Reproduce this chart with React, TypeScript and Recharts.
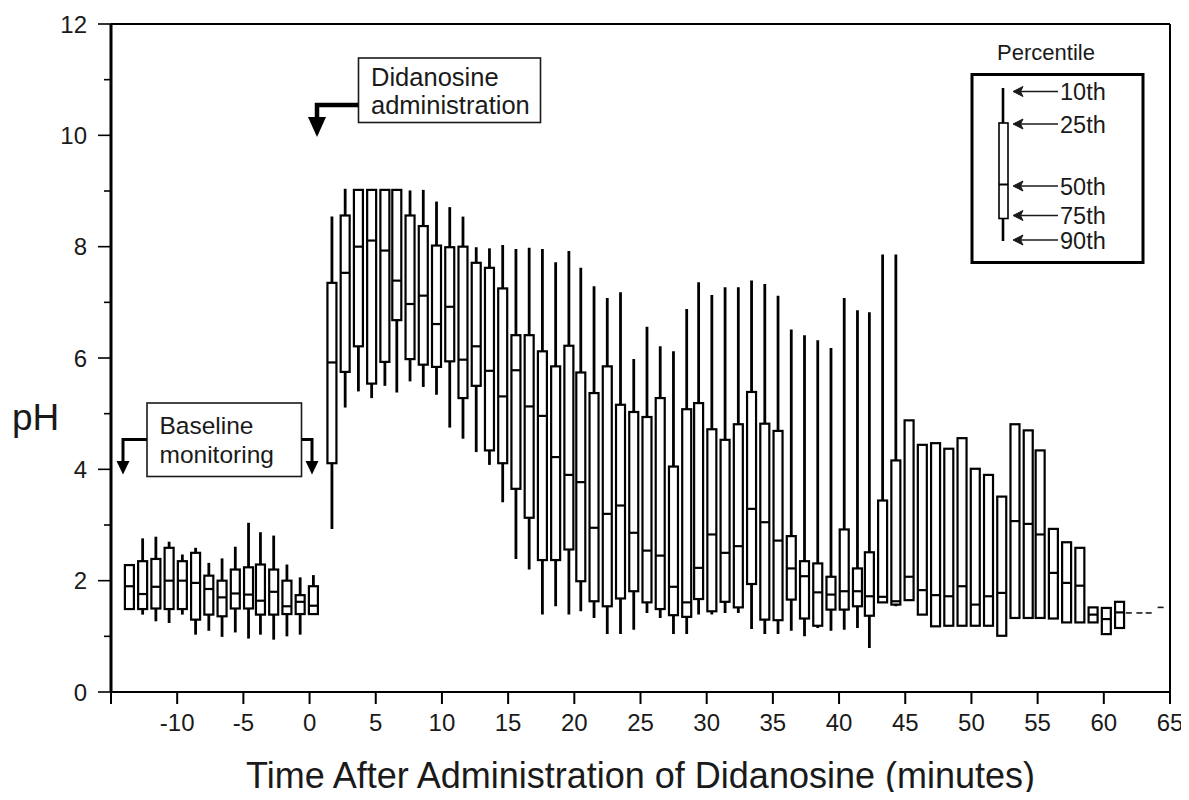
import React from 'react';
import { ComposedChart, Bar, XAxis, YAxis, ReferenceLine } from 'recharts';

// Time (minutes after didanosine administration)
const times = [
  -13.6, -12.6, -11.6, -10.6, -9.6, -8.6, -7.6, -6.6, -5.6, -4.6, -3.7, -2.7, -1.7, -0.7, 0.3,
  1.7, 2.7, 3.7, 4.7, 5.7, 6.6, 7.6, 8.6, 9.6, 10.6,
  11.6, 12.6, 13.6, 14.6, 15.6, 16.6, 17.6, 18.6, 19.6, 20.5,
  21.5, 22.5, 23.5, 24.5, 25.5, 26.5, 27.5, 28.5, 29.4, 30.4,
  31.4, 32.4, 33.4, 34.4, 35.4, 36.4, 37.4, 38.4, 39.4, 40.4,
  41.4, 42.3, 43.3, 44.3, 45.3, 46.3, 47.3, 48.3, 49.3, 50.3,
  51.3, 52.3, 53.3, 54.3, 55.2, 56.2, 57.2, 58.2, 59.2, 60.2,
  61.2, 61.9, 62.7, 63.4, 64.3,
];

// Upper whisker end
const whiskerHigh = [
  2.28, 2.76, 2.79, 2.7, 2.47, 2.59, 2.32, 2.4, 2.61, 3.04, 2.87, 2.81, 2.29, 2.06, 2.1,
  8.54, 9.04, 9.02, 9.02, 9.02, 9.02, 9.01, 9.02, 8.81, 8.71,
  8.54, 7.99, 7.97, 8.03, 7.96, 7.98, 7.96, 7.72, 7.92, 7.62,
  7.29, 7.08, 7.18, 5.98, 6.56, 6.21, 6.12, 6.88, 7.36, 7.13,
  7.27, 7.27, 7.39, 7.33, 7.12, 6.51, 6.41, 6.32, 6.18, 7.08,
  6.86, 6.82, 7.86, 7.86, 4.88, 4.44, 4.47, 4.37, 4.56, 4.01,
  3.9, 3.51, 4.81, 4.7, 4.34, 2.93, 2.69, 2.59, 1.52, 1.51,
  1.62, 1.43, 1.43, 1.43, 1.53,
];

// Upper edge of box
const boxHigh = [
  2.28, 2.35, 2.39, 2.59, 2.35, 2.5, 2.09, 2.0, 2.2, 2.24, 2.29, 2.2, 2.0, 1.74, 1.9,
  7.35, 8.56, 9.02, 9.02, 9.02, 9.02, 8.56, 8.37, 8.02, 7.99,
  8.0, 7.71, 7.62, 7.25, 6.41, 6.41, 6.12, 5.85, 6.22, 5.74,
  5.37, 5.85, 5.16, 5.03, 4.94, 5.28, 4.05, 5.08, 5.19, 4.72,
  4.53, 4.81, 5.39, 4.82, 4.69, 2.8, 2.35, 2.31, 2.07, 2.92,
  2.22, 2.51, 3.44, 4.16, 4.88, 4.44, 4.47, 4.37, 4.56, 4.01,
  3.9, 3.51, 4.81, 4.7, 4.34, 2.93, 2.69, 2.59, 1.52, 1.51,
  1.62, 1.43, 1.43, 1.43, 1.53,
];

// Median
const median = [
  1.9, 1.76, 1.89, 2.0, 2.0, 1.96, 1.85, 1.7, 1.77, 1.75, 1.64, 1.8, 1.54, 1.62, 1.55,
  5.92, 7.53, 8.0, 8.11, 7.93, 7.39, 6.97, 7.12, 6.61, 6.92,
  5.97, 6.21, 5.77, 5.31, 5.78, 5.13, 4.96, 4.22, 3.9, 3.77,
  2.95, 3.2, 3.35, 2.86, 2.54, 2.45, 1.89, 1.61, 2.23, 2.83,
  2.5, 2.62, 3.29, 3.05, 2.72, 2.22, 2.08, 1.79, 1.75, 1.81,
  1.81, 1.72, 1.71, 1.63, 2.07, 1.83, 1.74, 1.72, 1.9, 1.57,
  1.72, 1.78, 3.07, 3.02, 2.83, 2.14, 1.96, 1.91, 1.39, 1.31,
  1.43, 1.42, 1.42, 1.42, 1.52,
];

// Lower edge of box
const boxLow = [
  1.49, 1.49, 1.5, 1.49, 1.49, 1.3, 1.39, 1.36, 1.5, 1.5, 1.39, 1.39, 1.4, 1.4, 1.4,
  4.11, 5.75, 6.21, 5.54, 5.93, 6.68, 5.98, 5.88, 5.84, 5.94,
  5.28, 5.5, 4.34, 4.11, 3.65, 3.13, 2.37, 2.37, 2.56, 1.99,
  1.63, 1.54, 1.68, 1.81, 1.61, 1.49, 1.38, 1.35, 1.67, 1.45,
  1.62, 1.52, 1.94, 1.3, 1.29, 1.66, 1.32, 1.19, 1.48, 1.48,
  1.54, 1.37, 1.61, 1.57, 1.65, 1.39, 1.18, 1.19, 1.19, 1.19,
  1.19, 1.01, 1.33, 1.33, 1.33, 1.32, 1.25, 1.25, 1.25, 1.04,
  1.15, 1.41, 1.41, 1.41, 1.51,
];

// Lower whisker end
const whiskerLow = [
  1.49, 1.39, 1.27, 1.24, 1.39, 1.03, 1.1, 0.99, 1.07, 0.96, 1.03, 0.94, 1.0, 1.03, 1.4,
  2.93, 5.11, 5.4, 5.28, 5.5, 5.38, 5.58, 5.48, 5.34, 4.75,
  4.55, 4.31, 4.08, 3.41, 2.39, 2.2, 1.39, 1.54, 1.39, 1.45,
  1.33, 1.04, 1.04, 1.12, 1.42, 1.33, 1.04, 1.04, 1.39, 1.39,
  1.42, 1.42, 1.13, 1.04, 1.04, 1.1, 1.0, 1.15, 1.1, 1.12,
  1.15, 0.79, 1.61, 1.54, 1.65, 1.39, 1.18, 1.19, 1.19, 1.19,
  1.19, 1.01, 1.33, 1.33, 1.33, 1.32, 1.25, 1.25, 1.25, 1.04,
  1.15, 1.41, 1.41, 1.41, 1.51,
];

const xTicks = [-15, -10, -5, 0, 5, 10, 15, 20, 25, 30, 35, 40, 45, 50, 55, 60, 65];
const yTicks = [0, 1, 2, 3, 4, 5, 6, 7, 8, 9, 10, 11, 12];
const yLabelTicks = [0, 2, 4, 6, 8, 10, 12];

const data = times.map((t, i) => ({
  t,
  lo: whiskerLow[i],
  q1: boxLow[i],
  med: median[i],
  q3: boxHigh[i],
  hi: whiskerHigh[i],
}));

const FONT = '"Liberation Sans", Arial, Helvetica, sans-serif';
const INK = '#1a1a1a';
const AXIS_X = 111;
const AXIS_Y = 692;

const BoxShape = (props: any) => {
  const { x, y, width, height, payload } = props;
  if (x == null || y == null || !payload) return null;
  const top = Math.min(y, y + height);
  const h = Math.abs(height);
  const { lo, q1, med, q3, hi } = payload;
  const span = hi - lo;
  const py = (v: number) => (span > 0 ? top + (h * (hi - v)) / span : top);
  const cx = x + width / 2;
  if (q3 - q1 < 0.05) {
    return (
      <g>
        <line x1={cx - 3} x2={cx + 3} y1={py(med)} y2={py(med)} stroke={INK} strokeWidth={1.6} />
      </g>
    );
  }
  const half = 4.5;
  return (
    <g>
      <line x1={cx} x2={cx} y1={py(hi)} y2={py(lo)} stroke="#000" strokeWidth={2.8} />
      <rect
        x={cx - half}
        y={py(q3)}
        width={half * 2}
        height={Math.max(0, py(q1) - py(q3))}
        fill="#fff"
        stroke="#000"
        strokeWidth={2.2}
      />
      <line x1={cx - half} x2={cx + half} y1={py(med)} y2={py(med)} stroke="#000" strokeWidth={2.2} />
    </g>
  );
};

const YTick = (props: any) => {
  const { y, payload } = props;
  const v = payload.value;
  const major = yLabelTicks.includes(v);
  return (
    <g>
      <line x1={AXIS_X - (major ? 13 : 7)} x2={AXIS_X} y1={y} y2={y} stroke="#000" strokeWidth={1.6} />
      {major && (
        <text x={87} y={y + 8.5} textAnchor="end" fontSize={24} fontFamily={FONT} fill={INK}>
          {v}
        </text>
      )}
    </g>
  );
};

const XTick = (props: any) => {
  const { x, payload } = props;
  const v = payload.value;
  return (
    <g>
      <line x1={x} x2={x} y1={AXIS_Y} y2={AXIS_Y + 12} stroke="#000" strokeWidth={2} />
      {v !== -15 && (
        <text x={x} y={731} textAnchor="middle" fontSize={24} fontFamily={FONT} fill={INK}>
          {v}
        </text>
      )}
    </g>
  );
};

const legendRows = [
  { label: '10th', y: 91.5 },
  { label: '25th', y: 124 },
  { label: '50th', y: 186 },
  { label: '75th', y: 215.5 },
  { label: '90th', y: 240 },
];

const Overlay = () => (
  <svg
    width={1189}
    height={800}
    style={{ position: 'absolute', left: 0, top: 0, pointerEvents: 'none' }}
  >
    {/* Axis titles */}
    <text x={12} y={430} fontSize={37} fontFamily={FONT} fill={INK}>
      pH
    </text>
    <text x={640.5} y={788} textAnchor="middle" fontSize={36} fontFamily={FONT} fill={INK}>
      Time After Administration of Didanosine (minutes)
    </text>

    {/* Didanosine administration annotation */}
    <rect x={358.5} y={58} width={182} height={64.5} fill="#fff" stroke={INK} strokeWidth={1.6} />
    <text x={371} y={86} fontSize={25.5} fontFamily={FONT} fill={INK}>
      Didanosine
    </text>
    <text x={371} y={114} fontSize={25.5} fontFamily={FONT} fill={INK}>
      administration
    </text>
    <polyline points="358,105 317,105 317,120" fill="none" stroke="#000" strokeWidth={4.5} />
    <polygon points="308,117 326,117 317,137" fill="#000" />

    {/* Baseline monitoring annotation */}
    <rect x={147} y={403} width={154.5} height={73.5} fill="#fff" stroke={INK} strokeWidth={1.6} />
    <text x={159.5} y={434} fontSize={24.5} fontFamily={FONT} fill={INK}>
      Baseline
    </text>
    <text x={159.5} y={463} fontSize={24.5} fontFamily={FONT} fill={INK}>
      monitoring
    </text>
    <polyline points="147,439.5 123,439.5 123,463" fill="none" stroke="#000" strokeWidth={3} />
    <polygon points="116.5,461 129.5,461 123,474.5" fill="#000" />
    <polyline points="301.5,439.5 312,439.5 312,463" fill="none" stroke="#000" strokeWidth={3} />
    <polygon points="305.5,461 318.5,461 312,474.5" fill="#000" />

    {/* Percentile legend */}
    <text x={1046} y={60} textAnchor="middle" fontSize={22} fontFamily={FONT} fill={INK}>
      Percentile
    </text>
    <rect x={972} y={74.5} width={171} height={188} fill="#fff" stroke="#000" strokeWidth={3} />
    <line x1={1003} x2={1003} y1={88} y2={241} stroke="#000" strokeWidth={2.6} />
    <rect x={999} y={123} width={9} height={95.5} fill="#fff" stroke="#000" strokeWidth={1.6} />
    <line x1={999} x2={1008} y1={184.5} y2={184.5} stroke="#000" strokeWidth={2} />
    {legendRows.map((r) => (
      <g key={r.label}>
        <line x1={1017} x2={1058} y1={r.y} y2={r.y} stroke={INK} strokeWidth={1.5} />
        <polygon
          points={`1013,${r.y} 1023,${r.y - 5} 1020.5,${r.y} 1023,${r.y + 5}`}
          fill={INK}
          stroke={INK}
          strokeWidth={1}
        />
        <text x={1060} y={r.y + 8.5} fontSize={23.5} fontFamily={FONT} fill={INK}>
          {r.label}
        </text>
      </g>
    ))}
  </svg>
);

export default function App() {
  return (
    <div style={{ position: 'relative', width: 1189, height: 800, margin: -8, background: '#fff' }}>
      <ComposedChart
        width={1189}
        height={800}
        data={data}
        margin={{ top: 24, right: 19, bottom: 48, left: 0 }}
      >
        <XAxis
          dataKey="t"
          type="number"
          domain={[-15, 65]}
          ticks={xTicks}
          interval={0}
          height={60}
          allowDataOverflow
          axisLine={{ stroke: '#000', strokeWidth: 2 }}
          tickLine={false}
          tick={<XTick />}
        />
        <YAxis
          type="number"
          domain={[0, 12]}
          ticks={yTicks}
          interval={0}
          width={111}
          allowDataOverflow
          axisLine={{ stroke: '#000', strokeWidth: 3 }}
          tickLine={false}
          tick={<YTick />}
        />
        <ReferenceLine y={12} stroke="#000" strokeWidth={2} />
        <ReferenceLine x={65} stroke="#000" strokeWidth={2} />
        <Bar
          dataKey={(d: any) => [d.lo, d.hi]}
          barSize={9}
          shape={<BoxShape />}
          isAnimationActive={false}
        />
      </ComposedChart>
      <Overlay />
    </div>
  );
}
